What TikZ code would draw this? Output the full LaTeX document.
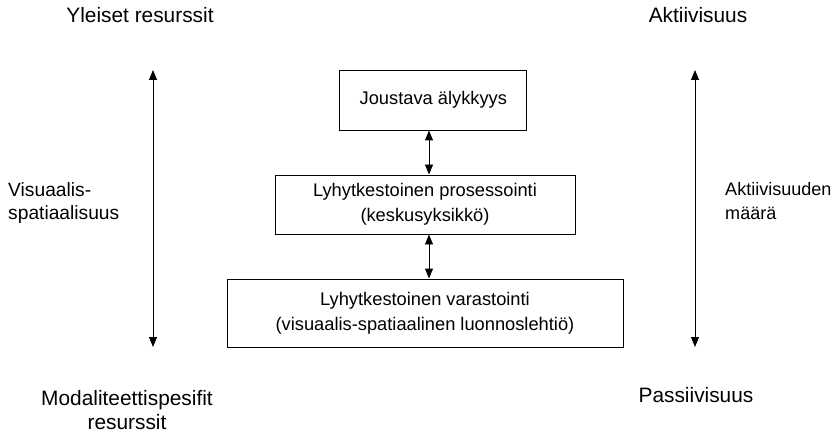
\documentclass[tikz,border=0pt]{standalone}
\usepackage{fontspec}
\setmainfont{Liberation Sans}
\usetikzlibrary{arrows.meta, positioning}

\begin{document}
\begin{tikzpicture}[
    every node/.style={font=\fontsize{17.8}{20}\selectfont},
    levelbox/.style={draw, line width=0.8pt, align=center, inner sep=0pt,
        font=\fontsize{15.6}{21.3}\selectfont},
    pointer/.style={line width=0.8pt, {Triangle[length=0.3cm, width=0.24cm]}-{Triangle[length=0.3cm, width=0.24cm]}},
    sidelabel/.style={align=left, anchor=west, inner sep=0pt}
]

% Fixed canvas
\useasboundingbox (0,0) rectangle (25.11,-13.08);

% Headings at the ends of the scales
\node (yleiset) at (4.2,-0.45) {Yleiset resurssit};
\node (aktiivisuus) at (20.94,-0.45) {Aktiivisuus};
\node[align=center] (modaliteetti) at (3.81,-12.3) {Modaliteettispesifit\\resurssit};
\node (passiivisuus) at (20.88,-11.85) {Passiivisuus};

% Scale arrows
\coordinate (vasenyla) at (4.59,-2.1);
\coordinate (vasenala) at (4.59,-10.41);
\coordinate (oikeayla) at (20.85,-2.1);
\coordinate (oikeaala) at (20.85,-10.41);
\draw[pointer] (vasenyla) -- (vasenala);
\draw[pointer] (oikeayla) -- (oikeaala);

\node[sidelabel, font=\fontsize{16.4}{19.8}\selectfont] (visuaalis) at (0.24,-6.09) {Visuaalis-\\spatiaalisuus};
\node[sidelabel, font=\fontsize{15.4}{19.8}\selectfont] (maara) at (21.75,-6.03) {Aktiivisuuden\\määrä};

% Levels
\node[levelbox, minimum width=5.61cm, minimum height=1.8cm] (joustava) at (13.0,-3.0)
    {Joustava älykkyys};
\node[levelbox, minimum width=9.0cm, minimum height=1.77cm] (prosessointi) at (12.75,-6.135)
    {Lyhytkestoinen prosessointi\\(keskusyksikkö)};
\node[levelbox, minimum width=11.88cm, minimum height=2.04cm] (varastointi) at (12.75,-9.39)
    {Lyhytkestoinen varastointi\\(visuaalis-spatiaalinen luonnoslehtiö)};

% Links between levels
\draw[pointer] (joustava.south -| 12.87,0) -- (prosessointi.north -| 12.87,0);
\draw[pointer] (prosessointi.south -| 12.87,0) -- (varastointi.north -| 12.87,0);

\end{tikzpicture}
\end{document}
